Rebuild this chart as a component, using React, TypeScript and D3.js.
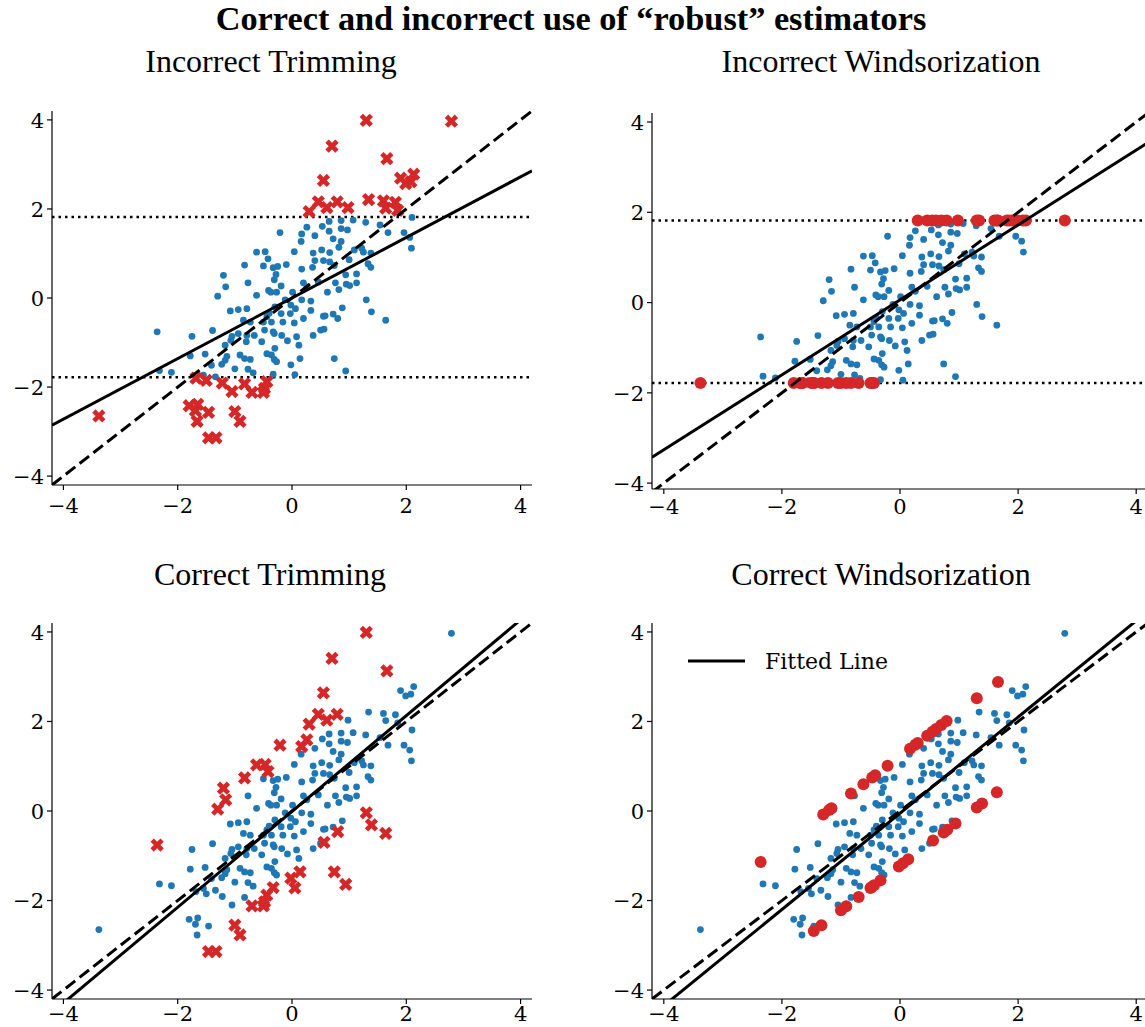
import * as React from 'react';
import * as d3 from 'd3';

const BLUE = '#1f77b4';
const RED = '#d62728';

// points kept in "Correct Trimming" (blue there)
const inliers: [number, number][] = [
  [2.79, 3.97], [1.90, 2.69], [2.13, 2.78], [1.99, 2.57], [2.08, 2.61], [0.98, 2.03], [1.34, 2.21],
  [1.60, 2.18], [1.64, 2.02], [1.81, 2.15], [1.85, 1.97], [2.10, 1.81], [0.65, 1.72], [0.86, 1.74],
  [1.07, 1.75], [1.29, 1.70], [1.54, 1.64], [0.86, 1.56], [0.53, 1.61], [0.65, 1.50], [0.16, 1.27],
  [0.40, 1.40], [0.04, 1.04], [0.37, 1.01], [0.52, 1.08], [0.66, 1.02], [-0.50, 0.72], [-0.33, 0.68],
  [-0.25, 0.71], [-0.10, 0.75], [0.40, 0.84], [0.55, 0.84], [0.17, 0.65], [0.36, 0.69], [0.66, 0.81],
  [-0.28, 0.53], [-0.31, 0.41], [-0.77, 0.34], [0.20, 0.34], [0.26, 0.25], [0.46, 0.36], [-0.41, 0.17],
  [-0.19, 0.27], [-0.37, 0.13], [-0.27, 0.13], [-0.62, 0.06], [0.01, 0.13], [-0.12, -0.04], [0.17, -0.04],
  [0.33, -0.07], [-0.02, -0.16], [0.06, -0.24], [-1.08, -0.29], [-0.94, -0.26], [-0.79, -0.24], [-0.30, -0.20],
  [-0.40, -0.34], [-0.44, -0.42], [-0.19, -0.35], [-0.03, -0.35], [0.33, -0.28], [0.55, -0.41], [0.72, -0.36],
  [-0.85, -0.50], [-0.73, -0.54], [-0.50, -0.54], [-0.36, -0.54], [-0.16, -0.54], [0.04, -0.56], [0.20, -0.46],
  [-1.39, -0.73], [-0.94, -0.80], [-1.05, -0.86], [-0.66, -0.84], [-0.48, -0.72], [-0.31, -0.80], [0.08, -0.87],
  [0.37, -0.84], [0.50, -0.72], [0.97, 1.53], [1.68, 1.47], [1.96, 1.47], [2.06, 1.36], [2.09, 1.12],
  [0.72, 1.33], [0.86, 1.27], [0.82, 1.14], [1.09, 1.08], [1.22, 1.12], [1.25, 1.03], [1.38, 1.01],
  [1.00, 0.86], [1.33, 0.77], [1.38, 0.69], [0.74, 0.73], [0.94, 0.52], [1.13, 0.54], [0.76, 0.34],
  [0.95, 0.31], [1.01, 0.28], [1.13, 0.34], [0.82, 0.19], [0.62, 0.13], [0.88, -0.22], [0.58, -0.40],
  [-1.75, -0.86], [-1.78, -1.30], [-1.52, -1.26], [-2.32, -1.63], [-2.11, -1.67], [-1.41, -1.51], [-1.68, -1.80],
  [-1.55, -1.73], [-1.50, -1.85], [-1.34, -1.77], [-1.80, -2.42], [-1.65, -2.39], [-1.69, -2.53], [-1.46, -2.57],
  [-1.66, -2.77], [-3.38, -2.65], [-1.07, -0.95], [-0.79, -0.84], [-0.33, -0.76], [-0.18, -0.84], [-0.08, -0.96],
  [0.12, -1.06], [-1.17, -1.06], [-0.80, -0.98], [-0.53, -0.98], [-1.14, -1.31], [-1.17, -1.40], [-1.23, -1.49],
  [-0.91, -1.28], [-0.83, -1.36], [-0.73, -1.38], [-0.44, -1.25], [-0.36, -1.28], [-0.30, -1.13], [-0.31, -1.38],
  [-0.27, -1.43], [-1.00, -1.59], [-0.77, -1.60], [-0.68, -1.68], [-1.22, -1.91], [-0.83, -1.93], [-1.05, -2.10],
];

// large-residual points (red crosses in "Correct Trimming")
const outliers: [number, number][] = [
  [1.30, 3.99], [0.70, 3.41], [1.66, 3.13], [0.55, 2.64], [0.79, 2.16], [0.61, 2.03], [0.46, 2.16],
  [0.30, 1.94], [0.26, 1.59], [-0.21, 1.47], [0.17, 1.44], [-0.62, 1.03], [-0.47, 1.04], [-0.42, 0.88],
  [-0.83, 0.74], [-1.20, 0.51], [-1.16, 0.25], [-1.30, 0.04], [-2.36, -0.76],
  [1.30, -0.04], [1.39, -0.31], [1.64, -0.50], [0.80, -0.46], [0.56, -0.70], [0.74, -1.36], [0.94, -1.64],
  [0.14, -1.36], [-0.02, -1.50], [0.05, -1.72], [-0.33, -1.71], [-0.44, -1.88], [-0.48, -2.03], [-0.70, -2.12],
  [-0.50, -2.12], [-1.00, -2.55], [-0.91, -2.77], [-1.46, -3.14], [-1.33, -3.14],
];

const trimLow = -1.78;
const trimHigh = 1.82;
const residCap = 1.22;

const suptitle = 'Correct and incorrect use of “robust” estimators';
const panelTitles = ['Incorrect Trimming', 'Incorrect Windsorization', 'Correct Trimming', 'Correct Windsorization'];
const fitSlopes = [0.68, 0.83, 1.07, 1.075];
const fitIntercepts = [0.0, 0.06, -0.01, -0.05];
const trueSlope = 1;
const trueIntercept = 0;
const tickValues = [-4, -2, 0, 2, 4];
const legendLabel = 'Fitted Line';
const xDomain: [number, number] = [-4.2, 4.2];

const boxes = [
  { l: 52, r: 532, t: 111, b: 485, y0: -4.2, y1: 4.2, tx: 271, ty: 72, lab: 28 },
  { l: 652, r: 1148, t: 113, b: 489, y0: -4.13, y1: 4.2, tx: 881, ty: 72, lab: 25 },
  { l: 52, r: 532, t: 623, b: 999, y0: -4.2, y1: 4.2, tx: 270, ty: 585, lab: 22 },
  { l: 652, r: 1148, t: 623, b: 999, y0: -4.2, y1: 4.2, tx: 881, ty: 585, lab: 22 },
];

const xMark = d3.symbol(d3.symbolCross, 110)() ?? '';
const fmt = (v: number) => (v < 0 ? '\u2212' + Math.abs(v) : String(v));

type Pt = [number, number];

function Panel({ idx, blue, red, redKind, hlines, legend }: {
  idx: number; blue: Pt[]; red: Pt[]; redKind: 'x' | 'dot'; hlines?: number[]; legend?: boolean;
}) {
  const bx = boxes[idx];
  const x = d3.scaleLinear().domain(xDomain).range([bx.l, bx.r]);
  const y = d3.scaleLinear().domain([bx.y0, bx.y1]).range([bx.b, bx.t]);
  const clipId = `clip${idx}`;
  const fitLine = d3.line<number>().x(v => x(v)).y(v => y(fitIntercepts[idx] + fitSlopes[idx] * v));
  const trueLine = d3.line<number>().x(v => x(v)).y(v => y(trueIntercept + trueSlope * v));
  const tickFont = { fontFamily: '"DejaVu Serif", serif', fontSize: 21, fill: '#000' };

  return (
    <g>
      <defs>
        <clipPath id={clipId}>
          <rect x={bx.l} y={bx.t} width={bx.r - bx.l} height={bx.b - bx.t} />
        </clipPath>
      </defs>
      <text x={bx.tx} y={bx.ty} textAnchor="middle"
        style={{ fontFamily: '"Liberation Serif", serif', fontSize: 32 }}>{panelTitles[idx]}</text>
      <g clipPath={`url(#${clipId})`}>
        {(hlines ?? []).map((h, i) => (
          <line key={i} x1={bx.l} x2={bx.r} y1={y(h)} y2={y(h)} stroke="#000" strokeWidth={2.5} strokeDasharray="2.5 4" />
        ))}
        {blue.map((p, i) => <circle key={'b' + i} cx={x(p[0])} cy={y(p[1])} r={3.4} fill={BLUE} />)}
        {red.map((p, i) => redKind === 'x'
          ? <path key={'r' + i} d={xMark} transform={`translate(${x(p[0])},${y(p[1])}) rotate(45)`} fill={RED} />
          : <circle key={'r' + i} cx={x(p[0])} cy={y(p[1])} r={6} fill={RED} />)}
        <path d={trueLine(xDomain) ?? ''} stroke="#000" strokeWidth={3} fill="none" strokeDasharray="12 5.5" />
        <path d={fitLine(xDomain) ?? ''} stroke="#000" strokeWidth={3} fill="none" />
      </g>
      <line x1={bx.l} x2={bx.l} y1={bx.t} y2={bx.b} stroke="#000" strokeWidth={1.2} />
      <line x1={bx.l} x2={bx.r} y1={bx.b} y2={bx.b} stroke="#000" strokeWidth={1.2} />
      {tickValues.map(t => (
        <g key={'x' + t}>
          <line x1={x(t)} x2={x(t)} y1={bx.b} y2={bx.b + 5} stroke="#000" strokeWidth={1.2} />
          <text x={x(t)} y={bx.b + bx.lab} textAnchor="middle" style={tickFont}>{fmt(t)}</text>
        </g>
      ))}
      {tickValues.map(t => (
        <g key={'y' + t}>
          <line x1={bx.l - 5} x2={bx.l} y1={y(t)} y2={y(t)} stroke="#000" strokeWidth={1.2} />
          <text x={bx.l - 8} y={y(t) + 7.7} textAnchor="end" style={tickFont}>{fmt(t)}</text>
        </g>
      ))}
      {legend && (
        <g>
          <line x1={688} x2={745} y1={661} y2={661} stroke="#000" strokeWidth={3} />
          <text x={765} y={669} style={{ fontFamily: '"DejaVu Serif", serif', fontSize: 22 }}>{legendLabel}</text>
        </g>
      )}
    </g>
  );
}

export default function App() {
  const all = inliers.concat(outliers);
  const inside = (p: Pt) => p[1] >= trimLow && p[1] <= trimHigh;
  const kept = all.filter(inside);
  const cut = all.filter(p => !inside(p));
  const clippedY: Pt[] = cut.map(p => [p[0], Math.max(trimLow, Math.min(trimHigh, p[1]))]);
  const clippedResid: Pt[] = outliers.map(p => [p[0], p[0] + Math.max(-residCap, Math.min(residCap, p[1] - p[0]))]);

  return (
    <svg width={1145} height={1027} style={{ position: 'absolute', left: 0, top: 0, background: '#fff' }}>
      <text x={571} y={30} textAnchor="middle"
        style={{ fontFamily: '"Liberation Serif", serif', fontSize: 34.3, fontWeight: 'bold' }}>{suptitle}</text>
      <Panel idx={0} blue={kept} red={cut} redKind="x" hlines={[trimLow, trimHigh]} />
      <Panel idx={1} blue={kept} red={clippedY} redKind="dot" hlines={[trimLow, trimHigh]} />
      <Panel idx={2} blue={inliers} red={outliers} redKind="x" />
      <Panel idx={3} blue={inliers} red={clippedResid} redKind="dot" legend />
    </svg>
  );
}
